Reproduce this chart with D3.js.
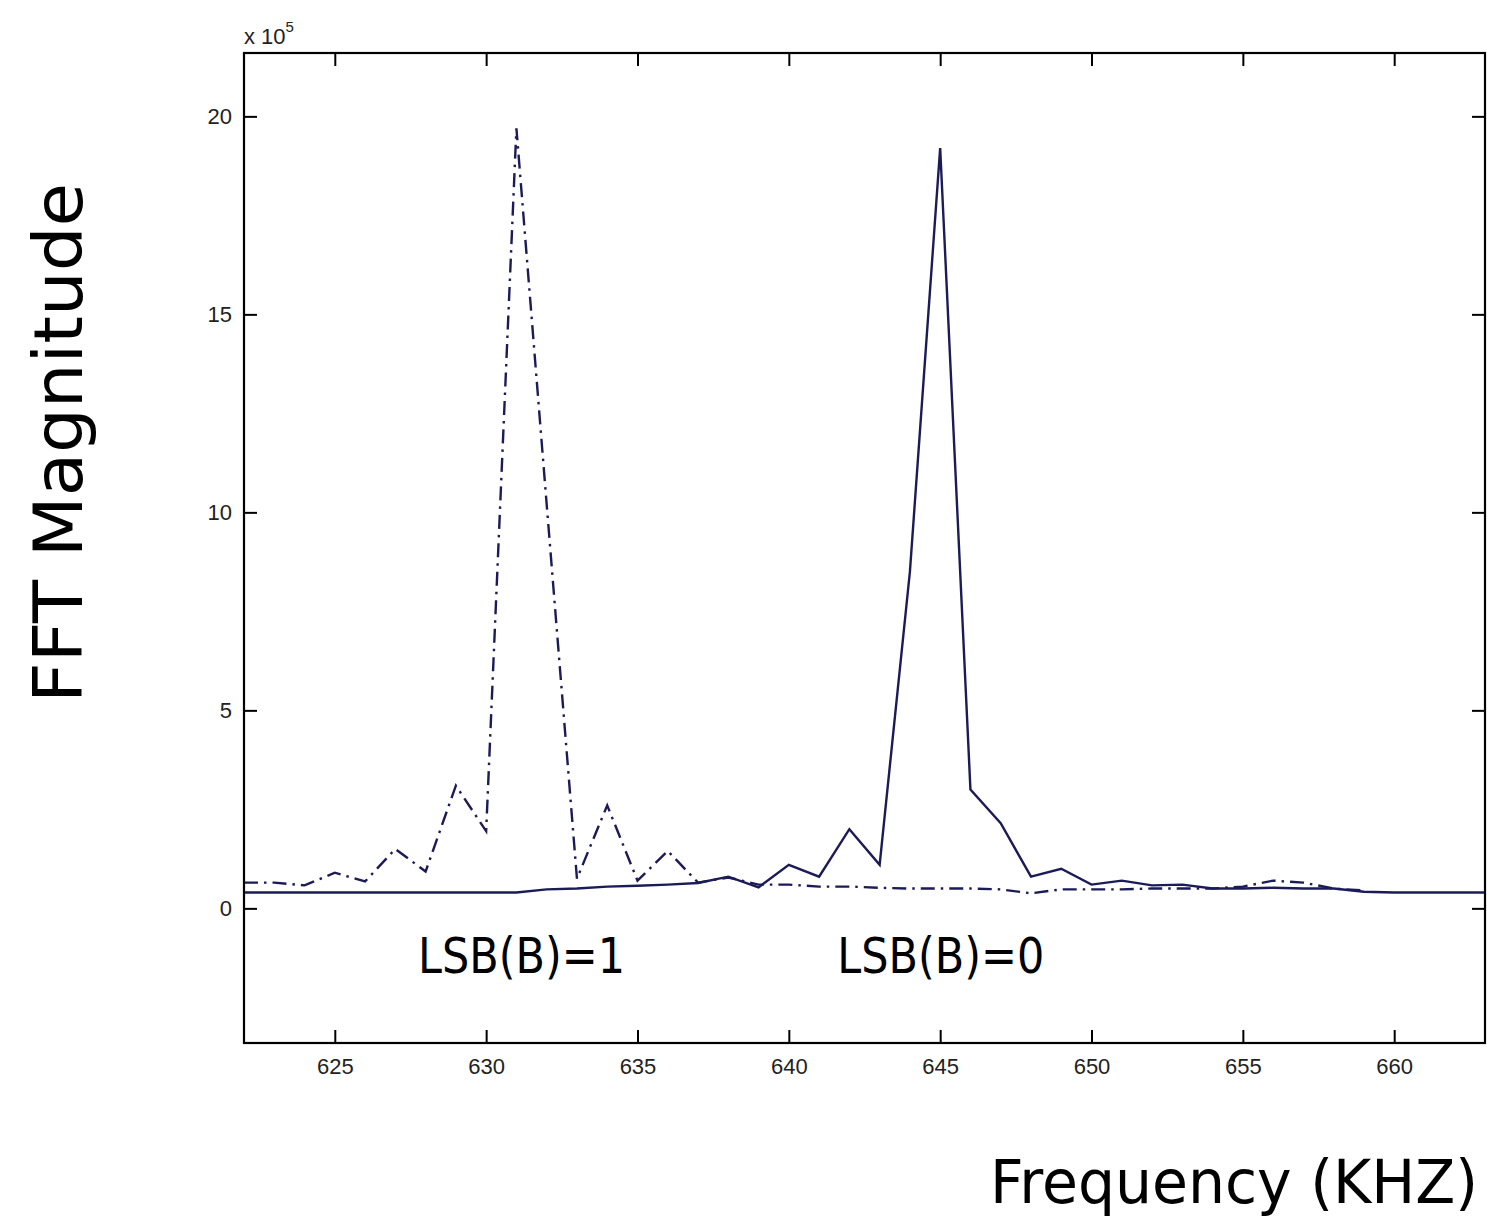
<!DOCTYPE html>
<html>
<head>
<meta charset="utf-8">
<script src="https://cdn.jsdelivr.net/npm/d3@7"></script>
<style>
  html, body { margin: 0; padding: 0; background: #fff; }
  #chart { width: 1497px; height: 1224px; }
  .tick text { font-family: "Liberation Sans", Arial, sans-serif; fill: #222; }
  .hand { font-family: "Comic Sans MS", "DejaVu Sans", sans-serif; fill: #000; }
</style>
</head>
<body>
<div id="chart"></div>
<script>
// FFT magnitude of the two LSB states, values in units of 1e5
const freqKHz = [622,623,624,625,626,627,628,629,630,631,632,633,634,635,636,637,638,639,640,641,642,
                 643,644,645,646,647,648,649,650,651,652,653,654,655,656,657,658,659,660,661,662,663];
const lsb0 = [0.4,0.4,0.4,0.4,0.4,0.4,0.4,0.4,0.4,0.4,0.48,0.5,0.55,0.57,0.6,0.64,0.8,0.53,1.1,0.8,2.0,
              1.1,8.5,19.2,3.0,2.15,0.8,1.0,0.6,0.7,0.58,0.6,0.5,0.5,0.52,0.5,0.5,0.42,0.4,0.4,0.4,0.4];
const lsb1Freq = [622,623,624,625,626,627,628,629,630,631,632,633,634,635,636,637,638,639,640,641,642,
                  643,644,645,646,647,648,649,650,651,652,653,654,655,656,657,658,659];
const lsb1 = [0.65,0.65,0.58,0.9,0.68,1.5,0.93,3.1,1.95,19.7,10.2,0.75,2.6,0.7,1.45,0.65,0.78,0.6,0.6,0.55,0.55,
              0.52,0.5,0.5,0.5,0.48,0.38,0.48,0.48,0.48,0.5,0.5,0.5,0.55,0.7,0.65,0.5,0.45];
const xTicks = [625,630,635,640,645,650,655,660];
const yTicks = [0,5,10,15,20];
const labels = [{text:'LSB(B)=1', f:627.75}, {text:'LSB(B)=0', f:641.6}];

(function(){
  const width = 1497, height = 1224;
  const margin = { top: 53, right: 12, bottom: 181, left: 244 };
  const ink = '#1b1b58';

  const svg = d3.select('#chart').append('svg')
    .attr('width', width).attr('height', height);

  const x = d3.scaleLinear().domain([622, 663]).range([margin.left, width - margin.right]);
  const y = d3.scaleLinear().domain([-3.4, 21.6]).range([height - margin.bottom, margin.top]);

  svg.append('clipPath').attr('id','plot')
    .append('rect')
    .attr('x', margin.left).attr('y', margin.top)
    .attr('width', x.range()[1]-x.range()[0]).attr('height', y.range()[0]-y.range()[1]);

  const line = d3.line().x(d=>x(d[0])).y(d=>y(d[1]));

  const g = svg.append('g').attr('clip-path','url(#plot)');
  g.append('path')
    .datum(lsb1Freq.map((f,i)=>[f, lsb1[i]]))
    .attr('d', line)
    .attr('fill','none').attr('stroke', ink).attr('stroke-width', 2.4)
    .attr('stroke-dasharray','14,6,2.5,6');
  g.append('path')
    .datum(freqKHz.map((f,i)=>[f, lsb0[i]]))
    .attr('d', line)
    .attr('fill','none').attr('stroke', ink).attr('stroke-width', 2.4);

  // inward ticks on all four sides, matlab style box
  const tl = 13;
  svg.append('g')
    .attr('transform', `translate(0,${y.range()[0]})`)
    .call(d3.axisBottom(x).tickValues(xTicks).tickSize(-tl).tickSizeOuter(0).tickPadding(15))
    .call(g => g.selectAll('text').style('font-size','22px'));
  svg.append('g')
    .attr('transform', `translate(0,${y.range()[1]})`)
    .call(d3.axisTop(x).tickValues(xTicks).tickSize(-tl).tickSizeOuter(0).tickFormat(''));
  svg.append('g')
    .attr('transform', `translate(${x.range()[0]},0)`)
    .call(d3.axisLeft(y).tickValues(yTicks).tickSize(-tl).tickSizeOuter(0).tickPadding(12))
    .call(g => g.selectAll('text').style('font-size','22px'));
  svg.append('g')
    .attr('transform', `translate(${x.range()[1]},0)`)
    .call(d3.axisRight(y).tickValues(yTicks).tickSize(-tl).tickSizeOuter(0).tickFormat(''));
  svg.selectAll('.domain').remove();
  svg.selectAll('.tick line').attr('stroke','#000').attr('stroke-width',2);

  svg.append('rect')
    .attr('x', x.range()[0]).attr('y', y.range()[1])
    .attr('width', x.range()[1]-x.range()[0]).attr('height', y.range()[0]-y.range()[1])
    .attr('fill','none').attr('stroke','#000').attr('stroke-width',2.2);

  // exponent note
  const ex = svg.append('text')
    .attr('x', margin.left).attr('y', 44)
    .style('font-family','"Liberation Sans", Arial, sans-serif')
    .style('font-size','22px').attr('fill','#222');
  ex.append('tspan').text('x 10');
  ex.append('tspan').attr('dy', -12).style('font-size','15px').text('5');

  // annotations
  svg.selectAll('text.note')
    .data(labels).enter().append('text')
    .attr('class','note hand')
    .attr('x', d=>x(d.f)).attr('y', 973)
    .attr('textLength', 207).attr('lengthAdjust','spacingAndGlyphs')
    .style('font-size','50px')
    .text(d=>d.text);

  svg.append('text')
    .attr('class','hand')
    .attr('transform','translate(82,703) rotate(-90)')
    .attr('textLength', 520).attr('lengthAdjust','spacingAndGlyphs')
    .style('font-size','68px')
    .text('FFT Magnitude');

  svg.append('text')
    .attr('class','hand')
    .attr('x', 990).attr('y', 1203)
    .attr('textLength', 488).attr('lengthAdjust','spacingAndGlyphs')
    .style('font-size','60px')
    .text('Frequency (KHZ)');
})();
</script>
</body>
</html>
